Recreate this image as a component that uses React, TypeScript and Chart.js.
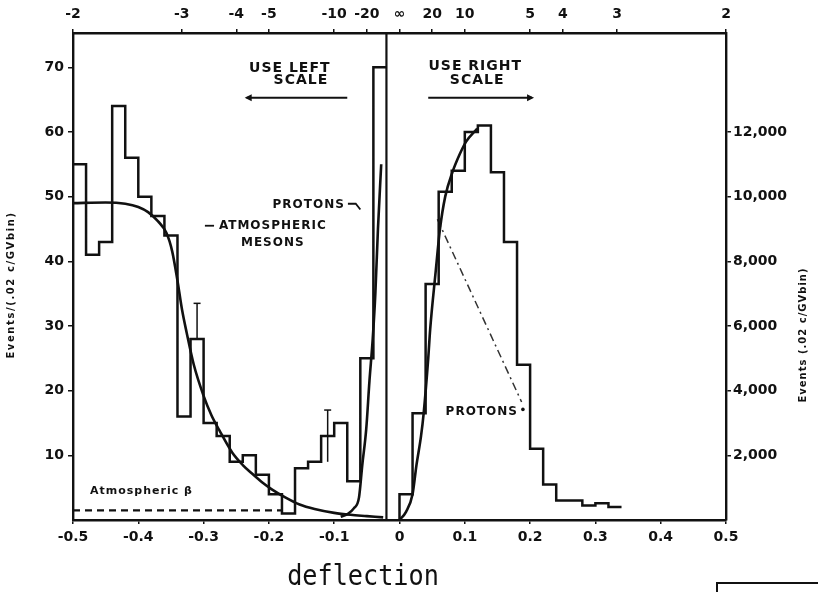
import { useEffect, useRef } from 'react';
import { Chart, registerables } from 'chart.js';

Chart.register(...registerables);

// ---- data -----------------------------------------------------------------

// Histogram bins are .02 c/GV wide.
const binWidth = 0.02;

// Negative deflections, counted on the left scale (events per bin).
const leftBinStart = -0.5;
const leftCounts = [55, 41, 43, 64, 56, 50, 47, 44, 16, 28, 15, 13, 9, 10, 7, 4, 1, 8, 9, 13, 15, 6, 25, 70];

// Positive deflections, counted on the right scale (events per bin).
const rightBinStart = 0;
const rightCounts = [800, 3300, 7300, 10150, 10800, 12000, 12200, 10750, 8600, 4800, 2200, 1100, 600, 600, 450, 520, 400];

// Fitted atmospheric-meson spectrum (left scale).
const mesonX = [-0.5, -0.45, -0.42, -0.4, -0.385, -0.37, -0.357, -0.348, -0.34, -0.333, -0.326, -0.315, -0.3, -0.288, -0.276, -0.256, -0.24, -0.225, -0.21, -0.195, -0.175, -0.153, -0.13, -0.1, -0.075, -0.05, -0.025];
const mesonY = [49, 49.1, 48.9, 48.4, 47.6, 46.2, 44.4, 41.5, 37, 32.5, 29, 24, 19.2, 16.2, 13.9, 10.4, 8.5, 7.1, 5.8, 4.7, 3.5, 2.4, 1.7, 1.1, 0.8, 0.6, 0.4];

// Proton response at negative deflection (left scale).
const protonLeftX = [-0.09, -0.08, -0.07, -0.062, -0.057, -0.051, -0.046, -0.041, -0.037, -0.033, -0.028];
const protonLeftY = [0.5, 0.9, 1.8, 3.5, 8.5, 14, 21.5, 28, 35, 45, 55];

// Proton spectrum at positive deflection (right scale).
const protonRightX = [0, 0.01, 0.02, 0.026, 0.033, 0.037, 0.044, 0.047, 0.055, 0.062, 0.07, 0.081, 0.092, 0.102, 0.119];
const protonRightY = [0, 250, 800, 1700, 2600, 3300, 5000, 5900, 7600, 9000, 10000, 10750, 11300, 11700, 12100];

// Extrapolated proton line (right scale).
const protonTailX = [0.058, 0.187];
const protonTailY = [9300, 3650];

// Atmospheric beta background level (left scale).
const betaX = [-0.5, -0.18];
const betaY = [1.5, 1.5];

// Error bars (left scale): position, low, high.
const errorBarX = [-0.31, -0.11];
const errorBarLow = [28, 9];
const errorBarHigh = [33.5, 17];

// Divider between the two scales.
const dividerX = -0.02;

// Axes
const LEFT_MAX = 75.3;
const RIGHT_PER_LEFT = 200;
const deflectionTicks = [-0.5, -0.4, -0.3, -0.2, -0.1, 0, 0.1, 0.2, 0.3, 0.4, 0.5];
const leftTicks = [10, 20, 30, 40, 50, 60, 70];
const rightTicks = [2000, 4000, 6000, 8000, 10000, 12000];
const rigidityTicks = [-2, -3, -4, -5, -10, -20, Infinity, 20, 10, 5, 4, 3, 2];

// ---- helpers --------------------------------------------------------------

const ink = '#111';
const sans = '"DejaVu Sans", sans-serif';

function histogramPoints(start: number, counts: number[], width: number, riseFromAxis: boolean) {
  const pts: { x: number; y: number }[] = [];
  if (riseFromAxis) pts.push({ x: start, y: 0 });
  counts.forEach((c, i) => pts.push({ x: start + i * width, y: c }));
  pts.push({ x: start + counts.length * width, y: counts[counts.length - 1] });
  return pts;
}

function zipPoints(xs: number[], ys: number[]) {
  return xs.map((x, i) => ({ x, y: ys[i] }));
}

function fmtDeflection(v: number) {
  if (Math.abs(v) < 1e-9) return '0';
  return (v < 0 ? '-' : '') + Math.abs(v).toFixed(1);
}

function fmtRigidity(r: number) {
  if (!isFinite(r)) return '∞';
  return (r < 0 ? '-' : '') + Math.abs(r);
}

function fmtThousands(v: number) {
  return v.toLocaleString('en-US');
}

const baseLine = {
  xAxisID: 'x',
  borderColor: ink,
  backgroundColor: ink,
  pointRadius: 0,
  fill: false,
};

const notesPlugin = {
  id: 'figureNotes',
  afterDatasetsDraw(chart: any) {
    const { ctx, scales } = chart;
    const px = (v: number) => scales.x.getPixelForValue(v);
    const py = (v: number) => scales.y.getPixelForValue(v);
    ctx.save();
    ctx.fillStyle = ink;
    ctx.strokeStyle = ink;

    const label = (text: string, x: number, y: number, size: number, align = 'center', spacing = 1) => {
      ctx.font = `bold ${size}px ${sans}`;
      (ctx as any).letterSpacing = `${spacing}px`;
      ctx.textAlign = align;
      ctx.textBaseline = 'middle';
      ctx.fillText(text, px(x), py(y));
    };

    const arrow = (x0: number, x1: number, yv: number, headAtEnd: boolean) => {
      const a = px(x0), b = px(x1), y = py(yv);
      ctx.lineWidth = 2;
      ctx.beginPath();
      ctx.moveTo(a, y);
      ctx.lineTo(b, y);
      ctx.stroke();
      const hx = headAtEnd ? b : a;
      const dir = headAtEnd ? 1 : -1;
      ctx.beginPath();
      ctx.moveTo(hx + dir * 2, y);
      ctx.lineTo(hx - dir * 5, y - 3.5);
      ctx.lineTo(hx - dir * 5, y + 3.5);
      ctx.closePath();
      ctx.fill();
    };

    // scale hints
    label('USE LEFT', -0.168, 69.9, 14);
    label('SCALE', -0.151, 67.9, 14);
    arrow(-0.234, -0.08, 65.3, false);
    label('USE RIGHT', 0.116, 70.1, 14);
    label('SCALE', 0.119, 67.9, 14);
    arrow(0.044, 0.203, 65.3, true);

    // curve labels
    label('PROTONS', -0.139, 48.7, 12);
    ctx.lineWidth = 1.8;
    ctx.beginPath();
    ctx.moveTo(px(-0.079), py(48.9));
    ctx.lineTo(px(-0.067), py(48.9));
    ctx.lineTo(px(-0.06), py(48.0));
    ctx.stroke();

    ctx.beginPath();
    ctx.moveTo(px(-0.298), py(45.5));
    ctx.lineTo(px(-0.284), py(45.5));
    ctx.stroke();
    label('ATMOSPHERIC', -0.194, 45.5, 12);
    label('MESONS', -0.194, 42.9, 12);

    label('Atmospheric β', -0.474, 4.5, 11, 'left', 1);

    label('PROTONS', 0.126, 16.7, 12);
    ctx.beginPath();
    ctx.arc(px(0.189), py(17.1), 1.8, 0, Math.PI * 2);
    ctx.fill();

    // axis titles
    (ctx as any).letterSpacing = '1.6px';
    ctx.font = `bold 10px ${sans}`;
    ctx.textAlign = 'center';
    ctx.textBaseline = 'middle';
    ctx.save();
    ctx.translate(11, 285);
    ctx.rotate(-Math.PI / 2);
    ctx.fillText('Events/(.02 c/GVbin)', 0, 0);
    ctx.restore();
    (ctx as any).letterSpacing = '1px';
    ctx.save();
    ctx.translate(803, 335);
    ctx.rotate(-Math.PI / 2);
    ctx.fillText('Events (.02 c/GVbin)', 0, 0);
    ctx.restore();

    // x title
    (ctx as any).letterSpacing = '0px';
    ctx.save();
    ctx.translate(363, 585);
    ctx.scale(0.9, 1);
    ctx.font = `28px "DejaVu Sans Mono", monospace`;
    ctx.textAlign = 'center';
    ctx.textBaseline = 'alphabetic';
    ctx.fillText('deflection', 0, 0);
    ctx.restore();

    // corner of the neighbouring panel
    ctx.lineWidth = 2;
    ctx.strokeRect(717, 583, 160, 40);

    ctx.restore();
  },
};

export default function App() {
  const canvasRef = useRef<HTMLCanvasElement | null>(null);

  useEffect(() => {
    const canvas = canvasRef.current;
    if (!canvas) return;

    const tickFont = (size: number) => ({ family: sans, size, weight: 'bold' as const });
    const tickGrid = (len: number) => ({
      display: true,
      drawOnChartArea: false,
      drawTicks: true,
      tickLength: len,
      color: ink,
      lineWidth: 1.5,
    });
    const border = { display: true, color: ink, width: 2.4 };

    const errorBars = errorBarX.map((x, i) => ({
      ...baseLine,
      yAxisID: 'y',
      data: [
        { x, y: errorBarLow[i] },
        { x, y: errorBarHigh[i] },
      ],
      borderWidth: 1.5,
      pointStyle: 'line',
      pointRadius: [0, 3.5],
      pointBorderWidth: 1.5,
      pointBorderColor: ink,
    }));

    const chart = new Chart(canvas, {
      type: 'line',
      data: {
        datasets: [
          {
            ...baseLine,
            yAxisID: 'y',
            data: histogramPoints(leftBinStart, leftCounts, binWidth, false),
            stepped: 'before',
            borderWidth: 2.5,
          },
          {
            ...baseLine,
            yAxisID: 'yR',
            data: histogramPoints(rightBinStart, rightCounts, binWidth, true),
            stepped: 'before',
            borderWidth: 2.5,
          },
          {
            ...baseLine,
            yAxisID: 'y',
            data: zipPoints(mesonX, mesonY),
            cubicInterpolationMode: 'monotone',
            borderWidth: 2.6,
          },
          {
            ...baseLine,
            yAxisID: 'y',
            data: zipPoints(protonLeftX, protonLeftY),
            cubicInterpolationMode: 'monotone',
            borderWidth: 2.6,
          },
          {
            ...baseLine,
            yAxisID: 'yR',
            data: zipPoints(protonRightX, protonRightY),
            cubicInterpolationMode: 'monotone',
            borderWidth: 2.6,
          },
          {
            ...baseLine,
            yAxisID: 'yR',
            data: zipPoints(protonTailX, protonTailY),
            borderDash: [8, 4, 2, 4],
            borderWidth: 1.5,
            borderColor: '#333',
          },
          {
            ...baseLine,
            yAxisID: 'y',
            data: zipPoints(betaX, betaY),
            borderDash: [7, 5],
            borderWidth: 2.2,
          },
          {
            ...baseLine,
            yAxisID: 'y',
            data: [
              { x: dividerX, y: 0 },
              { x: dividerX, y: LEFT_MAX },
            ],
            borderWidth: 2.2,
          },
          ...errorBars,
        ] as any,
      },
      options: {
        responsive: false,
        animation: false,
        devicePixelRatio: 1,
        layout: { padding: 0 },
        plugins: {
          legend: { display: false },
          tooltip: { enabled: false },
        },
        scales: {
          x: {
            type: 'linear',
            position: 'bottom',
            min: -0.5,
            max: 0.5,
            afterBuildTicks: (a: any) => {
              a.ticks = deflectionTicks.map((value) => ({ value }));
            },
            afterFit: (s: any) => {
              s.height = 72;
            },
            ticks: {
              callback: (v: any) => fmtDeflection(Number(v)),
              font: tickFont(14),
              color: ink,
              padding: 5,
              maxRotation: 0,
              autoSkip: false,
            },
            grid: tickGrid(4),
            border,
          },
          xTop: {
            type: 'linear',
            position: 'top',
            min: -0.5,
            max: 0.5,
            afterBuildTicks: (a: any) => {
              a.ticks = rigidityTicks.map((r) => ({ value: isFinite(r) ? 1 / r : 0 }));
            },
            afterFit: (s: any) => {
              s.height = 33;
            },
            ticks: {
              callback: (_v: any, i: number) => fmtRigidity(rigidityTicks[i]),
              font: tickFont(14),
              color: ink,
              padding: 6,
              maxRotation: 0,
              autoSkip: false,
            },
            grid: tickGrid(4),
            border,
          },
          y: {
            type: 'linear',
            position: 'left',
            min: 0,
            max: LEFT_MAX,
            afterBuildTicks: (a: any) => {
              a.ticks = leftTicks.map((value) => ({ value }));
            },
            afterFit: (s: any) => {
              s.width = 73;
            },
            ticks: {
              font: tickFont(14),
              color: ink,
              padding: 4,
            },
            grid: tickGrid(5),
            border,
          },
          yR: {
            type: 'linear',
            position: 'right',
            min: 0,
            max: LEFT_MAX * RIGHT_PER_LEFT,
            afterBuildTicks: (a: any) => {
              a.ticks = rightTicks.map((value) => ({ value }));
            },
            afterFit: (s: any) => {
              s.width = 92;
            },
            ticks: {
              callback: (v: any) => fmtThousands(Number(v)),
              font: tickFont(14),
              color: ink,
              padding: 2,
            },
            grid: tickGrid(5),
            border,
          },
        },
      } as any,
      plugins: [notesPlugin],
    });

    return () => chart.destroy();
  }, []);

  return (
    <div style={{ position: 'absolute', left: 0, top: 0, width: 818, height: 592, background: '#fff' }}>
      <canvas ref={canvasRef} width={818} height={592} style={{ display: 'block' }} />
    </div>
  );
}
